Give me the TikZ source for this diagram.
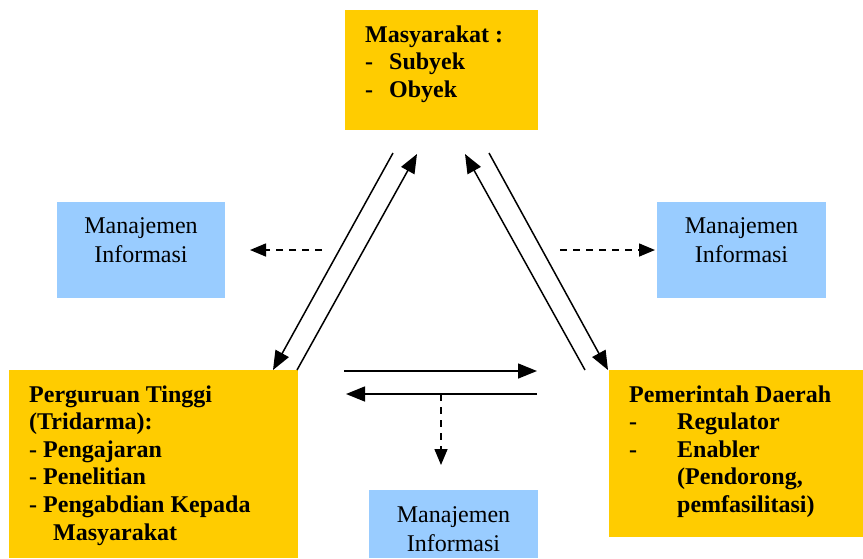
\documentclass[tikz,border=0pt]{standalone}
\usepackage{fontspec}
\setmainfont{Liberation Serif}
\usetikzlibrary{arrows.meta}
\definecolor{boxyellow}{HTML}{FFCC00}
\definecolor{boxblue}{HTML}{99CCFF}
\begin{document}
\begin{tikzpicture}[x=1pt,y=-1pt,
  ybox/.style={fill=boxyellow,draw=none,inner sep=0,outer sep=0,anchor=north west},
  bbox/.style={fill=boxblue,draw=none,inner sep=0,outer sep=0,anchor=north west},
  ytext/.style={anchor=base west,inner sep=0,font=\fontsize{24}{27.6}\selectfont\bfseries},
  btext/.style={anchor=base,inner sep=0,font=\fontsize{24}{29}\selectfont},
  conn/.style={line width=1.5pt,-{Triangle[length=19pt,width=15pt]}},
  dconn/.style={line width=1.5pt,dash pattern=on 7pt off 6pt,-{Triangle[length=16pt,width=13pt]}}]
\useasboundingbox (0,0) rectangle (863,558);
% boxes
\node[ybox,minimum width=193pt,minimum height=120pt] (mas) at (345,10) {};
\node[ybox,minimum width=289pt,minimum height=188pt] (pt) at (9,370) {};
\node[ybox,minimum width=254pt,minimum height=167pt] (pd) at (609,370) {};
\node[bbox,minimum width=168pt,minimum height=96pt] (mil) at (57,202) {};
\node[bbox,minimum width=169pt,minimum height=96pt] (mir) at (657,202) {};
\node[bbox,minimum width=169pt,minimum height=68pt] (mib) at (369,490) {};
% texts
\node[ytext] (tmas) at (365,42) {\parbox[t]{170pt}{Masyarakat :\\\makebox[24pt][l]{-}Subyek\\\makebox[24pt][l]{-}Obyek}};
\node[ytext] (tpt) at (29,402) {\parbox[t]{265pt}{Perguruan Tinggi\\(Tridarma):\\- Pengajaran\\- Penelitian\\- Pengabdian Kepada\\\hspace*{24pt}Masyarakat}};
\node[ytext] (tpd) at (629,402) {\parbox[t]{230pt}{Pemerintah Daerah\\\makebox[48pt][l]{-}Regulator\\\makebox[48pt][l]{-}Enabler\\\hspace*{48pt}(Pendorong,\\\hspace*{48pt}pemfasilitasi)}};
\node[btext] (tmil) at (141,233) {\parbox[t]{160pt}{\centering Manajemen\\Informasi}};
\node[btext] (tmir) at (741.5,233) {\parbox[t]{160pt}{\centering Manajemen\\Informasi}};
\node[btext] (tmib) at (453.5,522) {\parbox[t]{160pt}{\centering Manajemen\\Informasi}};
% arrow end points
\coordinate (l1s) at (393,153); \coordinate (l1e) at (273,370);
\coordinate (l2s) at (297,370); \coordinate (l2e) at (417,154);
\coordinate (r1s) at (585,370); \coordinate (r1e) at (465,154);
\coordinate (r2s) at (489,153); \coordinate (r2e) at (608,370);
\coordinate (dls) at (322,250); \coordinate (dle) at (250,250);
\coordinate (drs) at (560,250); \coordinate (dre) at (655,250);
\coordinate (h1s) at (344,371); \coordinate (h1e) at (537,371);
\coordinate (h2s) at (537,394); \coordinate (h2e) at (346,394);
\coordinate (dvs) at (441,394); \coordinate (dve) at (441,465);
% arrows
\draw[conn] (l1s) -- (l1e);
\draw[conn] (l2s) -- (l2e);
\draw[conn] (r1s) -- (r1e);
\draw[conn] (r2s) -- (r2e);
\draw[conn] (h1s) -- (h1e);
\draw[conn] (h2s) -- (h2e);
\draw[dconn] (dls) -- (dle);
\draw[dconn] (drs) -- (dre);
\draw[dconn] (dvs) -- (dve);
\end{tikzpicture}
\end{document}
